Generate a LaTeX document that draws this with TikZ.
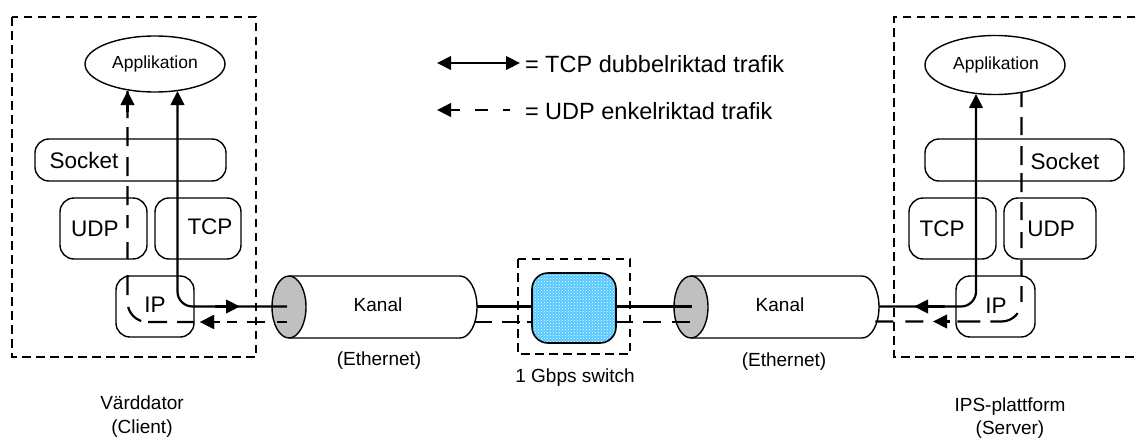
\documentclass[tikz,border=0pt]{standalone}
\usepackage{fontspec}
\setmainfont{Liberation Sans}
\usetikzlibrary{arrows.meta,shapes.geometric,patterns}
\newcommand{\fbig}{\fontsize{22.5}{26}\selectfont}
\newcommand{\fmid}{\fontsize{19}{23}\selectfont}
\newcommand{\fapp}{\fontsize{17.5}{21}\selectfont}
\newcommand{\fleg}{\fontsize{23.5}{28}\selectfont}
\definecolor{swblue}{HTML}{55C8FF}
\definecolor{cylgray}{HTML}{C0C0C0}
\tikzset{
  x=1pt,y=-1pt,
  every node/.style={inner sep=0pt,outer sep=0pt,text=black},
  framebox/.style={draw=black,line width=2.2pt,dash pattern=on 8.5pt off 5.5pt},
  layerbox/.style={draw=black,line width=1.4pt,rounded corners=14pt},
  appell/.style={draw=black,line width=1.4pt,ellipse,fill=white},
  cyl/.style={draw=black,line width=1.4pt},
  tcpline/.style={draw=black,line width=2.2pt},
  tip/.style={-{Triangle[length=14pt,width=13.5pt]}},
  bigtxt/.style={font=\fbig},
  midtxt/.style={font=\fmid},
  apptxt/.style={font=\fapp},
  legtxt/.style={font=\fleg,anchor=base west},
}
\begin{document}
\begin{tikzpicture}
\useasboundingbox (0,0) rectangle (1135,439);
% frames
\draw[framebox] (12,17) rectangle (256,357);
\draw[framebox] (1135,17) -- (894,17) -- (894,357) -- (1135,357);
\draw[framebox] (518,259) rectangle (630,354);
% left stack
\node[appell,minimum width=140pt,minimum height=56pt] (appL) at (155,64) {};
\node[apptxt] at (155,64) {Applikation};
\node[layerbox,minimum width=191pt,minimum height=42pt] (sockL) at (130.5,160) {};
\node[layerbox,minimum width=87pt,minimum height=61pt] (udpL) at (103.5,228.5) {};
\node[layerbox,minimum width=86pt,minimum height=61pt] (tcpL) at (198,228.5) {};
\node[layerbox,minimum width=78pt,minimum height=61pt] (ipL) at (155,306.5) {};
\node[bigtxt] at (84,160) {Socket};
\node[bigtxt] at (95,229) {UDP};
\node[bigtxt] at (210,227) {TCP};
\node[bigtxt] at (155,305) {IP};
% right stack
\node[appell,minimum width=140pt,minimum height=59pt] (appR) at (995,65) {};
\node[apptxt] at (996,65) {Applikation};
\node[layerbox,minimum width=199pt,minimum height=42pt] (sockR) at (1024.5,160) {};
\node[layerbox,minimum width=87pt,minimum height=61pt] (tcpR) at (952.5,228.5) {};
\node[layerbox,minimum width=92pt,minimum height=61pt] (udpR) at (1050,228.5) {};
\node[layerbox,minimum width=79pt,minimum height=61pt] (ipR) at (995.5,306.5) {};
\node[bigtxt] at (1065,161) {Socket};
\node[bigtxt] at (942,229) {TCP};
\node[bigtxt] at (1051,229) {UDP};
\node[bigtxt] at (996,306) {IP};
% left cylinder
\draw[cyl,fill=white] (289,276) -- (460,276) .. controls (469.4,276) and (477,289.9) .. (477,307) .. controls (477,324.1) and (469.4,338) .. (460,338) -- (289,338);
\draw[cyl,fill=cylgray] (289,307) ellipse[x radius=17,y radius=31];
\node[midtxt] at (378,305) {Kanal};
\node[midtxt] at (379,361) {(Ethernet)};
% right cylinder
\draw[cyl,fill=white] (691,276) -- (862,276) .. controls (871.4,276) and (879,289.9) .. (879,307) .. controls (879,324.1) and (871.4,338) .. (862,338) -- (691,338);
\draw[cyl,fill=cylgray] (691,307) ellipse[x radius=17,y radius=31];
\node[midtxt] at (780,305) {Kanal};
\node[midtxt] at (784,362) {(Ethernet)};
% switch
\node[fill=swblue,rounded corners=16pt,minimum width=84pt,minimum height=70pt] (swfill) at (574,308) {};
\node[pattern=crosshatch dots,pattern color=white,rounded corners=16pt,minimum width=84pt,minimum height=70pt] (swdots) at (574,308) {};
\node[draw=black,line width=1.6pt,rounded corners=16pt,minimum width=84pt,minimum height=70pt] (sw) at (574,308) {};
\node[midtxt] at (575,378) {1 Gbps switch};
% labels
\node[midtxt] at (142,403) {Värddator};
\node[midtxt] at (142,429) {(Client)};
\node[midtxt] at (1010,407) {IPS-plattform};
\node[midtxt] at (1010,430) {(Server)};
% named ends
\coordinate (cL) at (287,306.5);
\coordinate (cLd) at (287,322);
\coordinate (cLo) at (477,306.5);
\coordinate (cLod) at (474,322);
\coordinate (cR) at (692,306.5);
\coordinate (cRd) at (690,322);
\coordinate (cRo) at (879,306.5);
\coordinate (cRod) at (875,321.5);
\coordinate (swL) at (532,306.5);
\coordinate (swR) at (616,306.5);
\coordinate (swLd) at (532,322);
\coordinate (swRd) at (616,322);
\coordinate (tcpLtop) at (177.5,91);
\coordinate (udpLtop) at (127.5,91);
\coordinate (tcpRtop) at (976,94);
\coordinate (udpRtop) at (1021.5,92);
% TCP left
\draw[tcpline,tip,rounded corners=15pt] (cL) -- (177.5,306.5) -- (tcpLtop);
\draw[tcpline,tip] (215,306.5) -- (240,306.5);
% UDP left
\draw[tcpline,rounded corners=20pt,dash pattern=on 27pt off 9pt on 19pt off 11pt on 19pt off 10pt on 19pt off 10pt on 13pt off 14pt on 17pt off 16pt on 20pt off 12pt on 20pt off 7pt on 19pt off 10pt on 18pt off 100pt]
  (udpLtop) -- (127.5,322) -- (ipL.east |- 0,322);
\draw[tcpline,tip] (ipL.east |- 0,322) ++(20,0) -- ++(-14,0);
\draw[tcpline,dash pattern=on 10pt off 12pt on 18pt off 10pt on 10pt off 7pt on 7pt off 100pt] (cLd) -- (213,322);
\draw[tcpline] (220,322) -- (208,322);
\draw[tcpline,tip] (220,322) -- (200,322);
\draw[tcpline,tip] (127.5,112) -- (udpLtop);
% middle
\draw[tcpline] (cLo) -- (swL);
\draw[tcpline] (swR) -- (cR);
\draw[tcpline,dash pattern=on 18pt off 10pt on 18pt off 7pt on 5pt off 100pt] (cLod) -- (swLd);
\draw[tcpline,dash pattern=on 17pt off 10pt on 18pt off 11pt on 18pt off 100pt] (swRd) -- (cRd);
% TCP right
\draw[tcpline,tip,rounded corners=15pt] (cRo) -- (976,306.5) -- (tcpRtop);
\draw[tcpline,tip] (945,306.5) -- (914,306.5);
% UDP right
\draw[tcpline,rounded corners=20pt,dash pattern=on 15pt off 10pt on 18pt off 11pt on 19pt off 8pt on 19pt off 10pt on 18pt off 12pt on 16pt off 12pt on 16pt off 10pt on 16pt off 12pt on 30pt off 10pt on 23pt off 34pt on 18pt off 12pt on 18pt off 100pt]
  (udpRtop) -- (1021.5,321.5) -- (cRod);
\draw[tcpline,tip] (950,321.5) -- (933,321.5);
% legend
\coordinate (la) at (437,63);
\coordinate (lb) at (520,63);
\coordinate (lc) at (437,110);
\coordinate (ld) at (460,110);
\coordinate (le) at (475,110);
\coordinate (lf) at (488,110);
\coordinate (lg) at (503,110);
\coordinate (lh) at (510,110);
\draw[tcpline,{Triangle[length=14pt,width=13.5pt]}-{Triangle[length=14pt,width=13.5pt]}] (la) -- (lb);
\draw[tcpline,{Triangle[length=14pt,width=13.5pt]}-] (lc) -- (ld);
\draw[tcpline] (le) -- (lf);
\draw[tcpline] (lg) -- (lh);
\node[legtxt] at (525,72) {= TCP dubbelriktad trafik};
\node[legtxt] at (525,119) {= UDP enkelriktad trafik};
\end{tikzpicture}
\end{document}
